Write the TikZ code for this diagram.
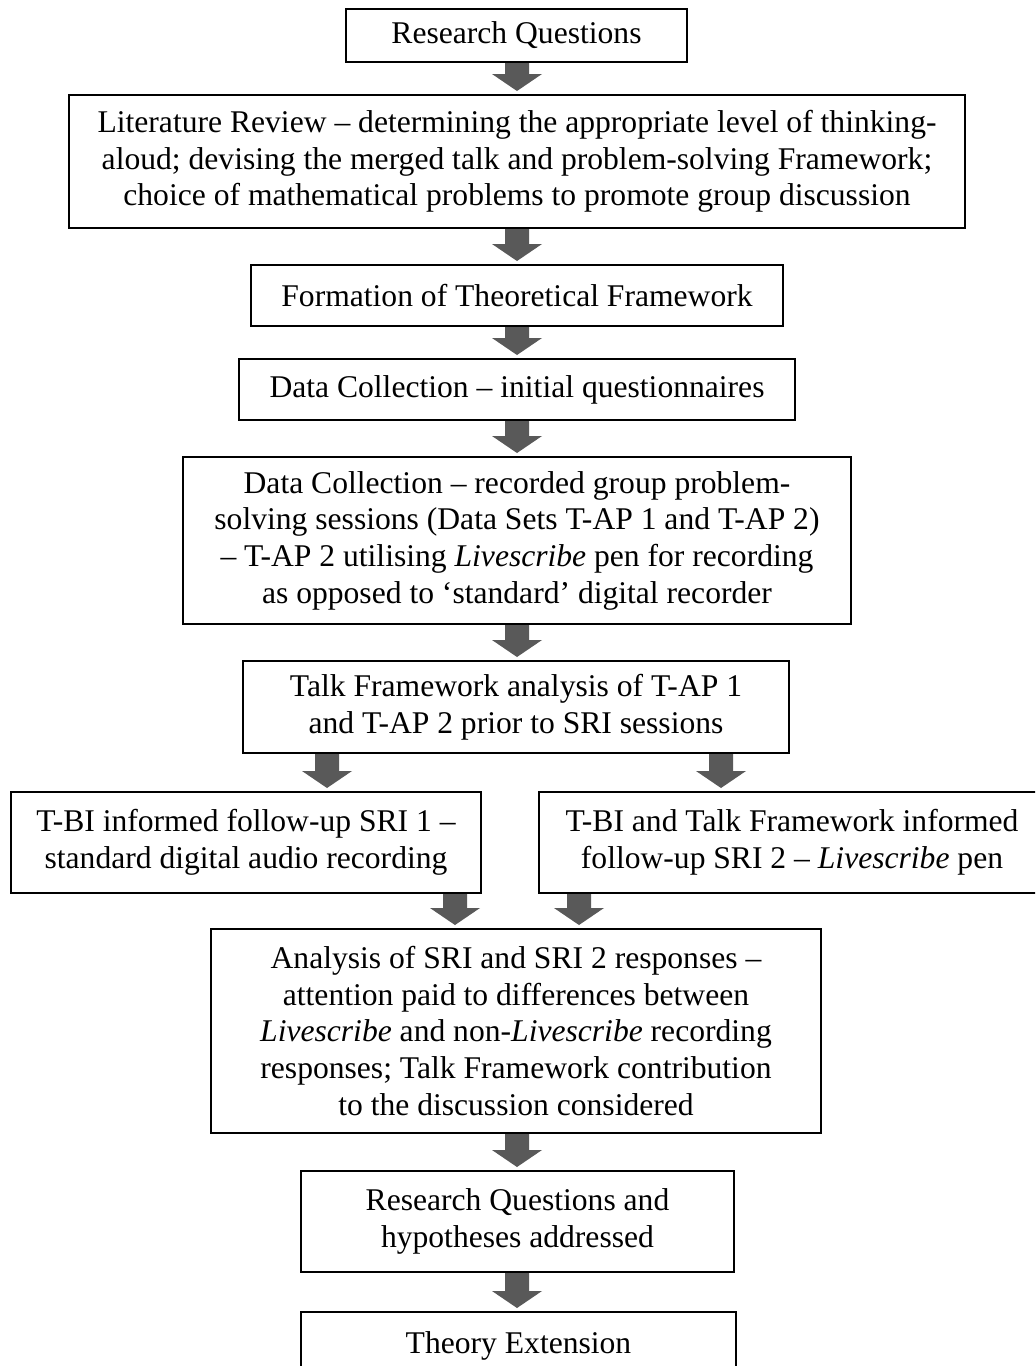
\documentclass[tikz,border=0pt]{standalone}
\usepackage{fontspec}
\setmainfont{Liberation Serif}
\usetikzlibrary{calc}
\definecolor{arrowgray}{RGB}{89,89,89}
\tikzset{
  flowbox/.style={draw=black, line width=1pt, align=center, inner sep=0pt,
    font=\fontsize{15.8}{18.35}\selectfont},
}
% block arrow from anchor #1 to anchor #2, at the x of coordinate #3
\newcommand{\blkarrow}[3]{%
  \path (#1 -| #3) coordinate (ba-s) (#2 -| #3) coordinate (ba-t);
  \fill[arrowgray] ($(ba-s)+(-12,0)$) -- ($(ba-s)+(12,0)$)
    -- ($(ba-t)+(12,-20)$) -- ($(ba-t)+(25,-20)$) -- ($(ba-t)+(0,-3)$)
    -- ($(ba-t)+(-25,-20)$) -- ($(ba-t)+(-12,-20)$) -- cycle;
}
\begin{document}
\begin{tikzpicture}[x=0.5pt,y=-0.5pt]
\clip (0,0) rectangle (1035,1366);
\fill[white] (0,0) rectangle (1035,1366);

\coordinate (cx) at (517,0);
\coordinate (xl1) at (327,0);
\coordinate (xr1) at (721,0);
\coordinate (xl2) at (455,0);
\coordinate (xr2) at (579,0);

\node[flowbox, minimum width=170.5pt, minimum height=26.5pt] (rq) at (516.5,35.5) {Research Questions};
\node[flowbox, minimum width=448pt, minimum height=66.5pt] (lit) at (517,161.5)
  {Literature Review – determining the appropriate level of thinking-\\aloud; devising the merged talk and problem-solving Framework;\\choice of mathematical problems to promote group discussion};
\node[flowbox, minimum width=266pt, minimum height=30.5pt] (form) at (517,295.5) {Formation of Theoretical Framework};
\node[flowbox, minimum width=278pt, minimum height=30.5pt] (dci) at (517,389.5) {Data Collection – initial questionnaires};
\node[flowbox, minimum width=334pt, minimum height=83.5pt] (dcr) at (517,540.5)
  {Data Collection – recorded group problem-\\solving sessions (Data Sets T-AP 1 and T-AP 2)\\– T-AP 2 utilising \textit{Livescribe} pen for recording\\as opposed to ‘standard’ digital recorder};
\node[flowbox, minimum width=273pt, minimum height=46pt] (talk) at (516,707)
  {Talk Framework analysis of T-AP 1\\and T-AP 2 prior to SRI sessions};
\node[flowbox, minimum width=235pt, minimum height=50.5pt] (lbox) at (246,842.5)
  {T-BI informed follow-up SRI 1 –\\standard digital audio recording};
\node[flowbox, minimum width=253pt, minimum height=50.5pt] (rbox) at (792,842.5)
  {T-BI and Talk Framework informed\\follow-up SRI 2 – \textit{Livescribe} pen};
\node[flowbox, minimum width=305pt, minimum height=102pt] (ana) at (516,1031)
  {Analysis of SRI and SRI 2 responses –\\attention paid to differences between\\\textit{Livescribe} and non-\textit{Livescribe} recording\\responses; Talk Framework contribution\\to the discussion considered};
\node[flowbox, minimum width=216.5pt, minimum height=50.5pt] (rqh) at (517.5,1221.5)
  {Research Questions and\\hypotheses addressed};
\node[flowbox, anchor=north, minimum width=217.5pt, inner ysep=9.5pt, text height=11pt, text depth=40pt] (theory) at (518.5,1311)
  {Theory Extension};

\blkarrow{rq.south}{lit.north}{cx}
\blkarrow{lit.south}{form.north}{cx}
\blkarrow{form.south}{dci.north}{cx}
\blkarrow{dci.south}{dcr.north}{cx}
\blkarrow{dcr.south}{talk.north}{cx}
\blkarrow{talk.south}{lbox.north}{xl1}
\blkarrow{talk.south}{rbox.north}{xr1}
\blkarrow{lbox.south}{ana.north}{xl2}
\blkarrow{rbox.south}{ana.north}{xr2}
\blkarrow{ana.south}{rqh.north}{cx}
\blkarrow{rqh.south}{theory.north}{cx}
\end{tikzpicture}
\end{document}
